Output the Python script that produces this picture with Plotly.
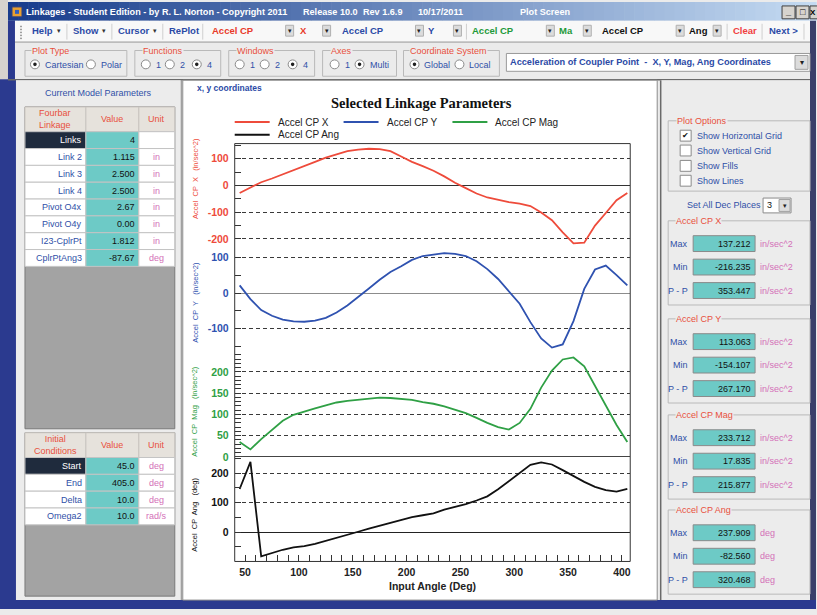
import plotly.graph_objects as go

# ---------------------------------------------------------------- data
input_angle = [45, 55, 65, 75, 85, 95, 105, 115, 125, 135, 145, 155, 165, 175,
               185, 195, 205, 215, 225, 235, 245, 255, 265, 275, 285, 295, 305,
               315, 325, 335, 345, 355, 365, 375, 385, 395, 405]

accel_x = [-28, -8, 12, 26, 41, 58, 72, 88, 104, 117, 128, 134, 137.2, 136,
           128, 108, 88, 72, 55, 34, 10, -10, -30, -45, -54, -62, -68,
           -77, -101, -130, -175, -216.2, -214, -150, -103, -55, -28]

accel_y = [22, -17, -48, -64, -75, -80, -81, -78, -70, -55, -35, -12, 13, 38,
           60, 76, 94, 105, 110, 113.06, 111, 105, 90, 68, 40, 5, -30,
           -82, -128, -154.1, -145, -79, 12, 67, 78, 51, 22]

accel_mag = [35, 17.8, 42, 64, 85, 99, 107, 114, 121, 128, 132, 135, 138, 139.5,
             138.5, 137, 134, 129, 125, 119, 111, 103, 92, 80, 70, 64.5, 80,
             113, 163, 203, 229, 233.7, 213, 168, 122, 75, 35]

accel_ang = [146, 237.9, -82.56, -70, -60, -52, -48, -40, -30, -20, -11, 1, 12, 22,
             31, 40, 51, 57, 63, 76, 85, 95, 107, 121, 145, 173, 200,
             228, 236, 229, 210, 190, 170, 153, 142, 137, 146]

series_names = ["Accel CP X", "Accel CP Y", "Accel CP Mag", "Accel CP Ang"]
series_colors = ["#ee4b3b", "#2f52b0", "#2fa045", "#111111"]
axis_titles = ["Accel  CP  X   (in/sec^2)", "Accel  CP  Y   (in/sec^2)",
               "Accel  CP  Mag   (in/sec^2)", "Accel  CP  Ang   (deg)"]
tick_values = [[-200, -100, 0, 100], [-100, 0, 100],
               [0, 50, 100, 150, 200], [0, 100, 200]]
tick_labels = [["-200", "-100", "0", "100"], ["-100", "0", "100"],
               ["0", "50", "100", "150", "200"], ["0", "100", "200"]]
x_tick_values = [50, 100, 150, 200, 250, 300, 350, 400]

param_names = ["Links", "Link 2", "Link 3", "Link 4", "Pivot O4x", "Pivot O4y",
               "I23-CplrPt", "CplrPtAng3"]
param_values = ["4", "1.115", "2.500", "2.500", "2.67", "0.00", "1.812", "-87.67"]
param_units = ["", "in", "in", "in", "in", "in", "in", "deg"]

init_names = ["Start", "End", "Delta", "Omega2"]
init_values = ["45.0", "405.0", "10.0", "10.0"]
init_units = ["deg", "deg", "deg", "rad/s"]

stat_groups = ["Accel CP X", "Accel CP Y", "Accel CP Mag", "Accel CP Ang"]
stat_max = ["137.212", "113.063", "233.712", "237.909"]
stat_min = ["-216.235", "-154.107", "17.835", "-82.560"]
stat_pp = ["353.447", "267.170", "215.877", "320.468"]
stat_units = ["in/sec^2", "in/sec^2", "in/sec^2", "deg"]

# ---------------------------------------------------------------- helpers
W, H = 817, 615
UI = "Liberation Sans"
BLUE_TXT = "#3050a8"
RED_TXT = "#e8503c"
PINK_TXT = "#d470b8"
TEAL = "#6dcac6"
FRAME_BLUE = "#2b3a8f"
PANEL = "#ececec"

shapes, annos = [], []


def fx(x):
    return x / W


def fy(y):
    return 1 - y / H


def rect(x0, y0, x1, y1, fill=None, line=None, lw=1, layer="below"):
    shapes.append(dict(type="rect", xref="paper", yref="paper",
                       x0=fx(x0), x1=fx(x1), y0=fy(y1), y1=fy(y0),
                       fillcolor=fill or "rgba(0,0,0,0)",
                       line=dict(color=line or "rgba(0,0,0,0)", width=lw if line else 0),
                       layer=layer))


def circle(cx, cy, r, fill, line=None, lw=1):
    shapes.append(dict(type="circle", xref="paper", yref="paper",
                       x0=fx(cx - r), x1=fx(cx + r), y0=fy(cy + r), y1=fy(cy - r),
                       fillcolor=fill, line=dict(color=line or fill, width=lw if line else 0),
                       layer="below"))


def seg(x0, y0, x1, y1, color, lw=1, dash=None, layer="below"):
    shapes.append(dict(type="line", xref="paper", yref="paper",
                       x0=fx(x0), x1=fx(x1), y0=fy(y0), y1=fy(y1),
                       line=dict(color=color, width=lw, dash=dash), layer=layer))


def text(x, y, s, color="#000", size=9, anchor="left", bold=False, family=UI,
         angle=0, bg=None):
    annos.append(dict(xref="paper", yref="paper", x=fx(x), y=fy(y),
                      text=("<b>%s</b>" % s) if bold else s, showarrow=False,
                      xanchor=anchor, yanchor="middle", textangle=angle,
                      font=dict(color=color, size=size, family=family),
                      bgcolor=bg, borderpad=0))


def group_box(x0, y0, x1, y1, label, lx, bg=PANEL):
    rect(x0, y0, x1, y1, None, "#b9b9b9", 1)
    text(lx, y0, label, RED_TXT, 9, bg=bg)


def radio(cx, cy, label, on):
    circle(cx, cy, 4.5, "#ffffff", "#8a8a8a", 1)
    if on:
        circle(cx, cy, 1.8, "#202020")
    text(cx + 9, cy + 1, label, BLUE_TXT, 9)


def drop_button(cx, cy, w=8, h=11):
    rect(cx - w / 2, cy - h / 2, cx + w / 2, cy + h / 2, "#dcdcdc", "#b0b0b0", 1)
    text(cx, cy, "\u25be", "#222", 7, anchor="center")


# ---------------------------------------------------------------- window chrome
# title bar gradient
n_strips = 80
c0, c1 = (24, 60, 140), (196, 218, 242)
for i in range(n_strips):
    t = i / (n_strips - 1)
    col = "rgb(%d,%d,%d)" % tuple(int(a + (b - a) * t) for a, b in zip(c0, c1))
    rect(8 + i * (809 / n_strips), 2, 8 + (i + 1) * (809 / n_strips) + 0.6, 21, col)
rect(0, 0, 8, 80, "#d6d3ce")
rect(12, 7, 22, 17, "#e8a030", "#304080", 1)
rect(15, 10, 19, 14, "#3060c0")
text(25, 12, "Linkages - Student Edition - by R. L. Norton - Copyright 2011", "#ffffff", 9.1, bold=True)
text(302, 12, "Release 10.0", "#ffffff", 9.1, bold=True)
text(362, 12, "Rev 1.6.9", "#ffffff", 9.1, bold=True)
text(418, 12, "10/17/2011", "#ffffff", 9.1, bold=True)
text(520, 12, "Plot Screen", "#ffffff", 9.1, bold=True)
for bx0, bx1, glyph in [(783, 796, "_"), (797, 810, "\u25a1")]:
    rect(bx0, 6, bx1, 19, "#d6d3ce", "#404040", 1)
    text((bx0 + bx1) / 2, 12.5, glyph, "#000", 9, anchor="center", bold=True)
rect(811, 6, 824, 19, "#d6d3ce", "#404040", 1)
text(814, 12.5, "X", "#000", 8, anchor="center", bold=True)

# frame strips
rect(8, 21, 15, 615, FRAME_BLUE)
rect(0, 80, 16, 615, FRAME_BLUE)
rect(811, 21, 817, 615, "#3a3f6a")
rect(0, 606, 817, 615, FRAME_BLUE)

# toolbar
rect(15, 21, 811, 42, "#f8f8f8")
seg(15, 42.5, 811, 42.5, "#9a9a9a", 1)
for gy in range(26, 40, 3):
    rect(20, gy, 22, gy + 1.5, "#a0a0a0")
for sx in [67, 112, 163, 203, 467, 728, 763, 805]:
    seg(sx, 24, sx, 40, "#cfcfcf", 1)
for label, lx, ax in [("Help", 31, 59), ("Show", 72, 104), ("Cursor", 117, 155)]:
    text(lx, 31, label, "#2b4aa6", 9.5, bold=True)
    text(ax, 31, "\u25be", "#333", 7, anchor="center")
text(168, 31, "RePlot", "#2b4aa6", 9.5, bold=True)
combo_items = [("Accel CP", 211, "#e83a2a"), ("X", 299, "#e83a2a"),
               ("Accel CP", 341, "#2b4aa6"), ("Y", 428, "#2b4aa6"),
               ("Accel CP", 472, "#1e9a3a"), ("Ma", 559, "#1e9a3a"),
               ("Accel CP", 602, "#111111"), ("Ang", 689, "#111111"),
               ("Clear", 733, "#f04040"), ("Next >", 769, "#2b4aa6")]
for label, lx, col in combo_items:
    text(lx, 31, label, col, 9.5, bold=True)
for cx in [290, 327, 420, 458, 551, 588, 681, 718]:
    drop_button(cx, 31)

# option row
group_box(25, 51, 127, 77, "Plot Type", 31)
radio(35, 65, "Cartesian", True)
radio(91, 65, "Polar", False)
group_box(135, 51, 221, 77, "Functions", 142)
radio(146, 65, "1", False)
radio(170, 65, "2", False)
radio(197, 65, "4", True)
group_box(229, 51, 315, 77, "Windows", 236)
radio(240, 65, "1", False)
radio(265, 65, "2", False)
radio(293, 65, "4", True)
group_box(323, 51, 397, 77, "Axes", 330)
radio(335, 65, "1", False)
radio(360, 65, "Multi", True)
group_box(404, 51, 500, 77, "Coordinate System", 410)
radio(415, 65, "Global", True)
radio(460, 65, "Local", False)
rect(507, 54, 811, 72, "#ffffff", "#9a9a9a", 1)
text(510, 63, "Acceleration of Coupler Point  -  X, Y, Mag, Ang Coordinates", "#2b4aa6", 9.2, bold=True)
rect(796, 56, 809, 70, "#dcdcdc", "#a0a0a0", 1)
text(802.5, 63, "\u25be", "#222", 8, anchor="center")
seg(8, 80.5, 811, 80.5, "#6a6a6a", 1.5)

# ---------------------------------------------------------------- left panel
rect(16, 81, 181, 606, PANEL)
seg(181.5, 81, 181.5, 606, "#8a8a8a", 1)
text(99, 94, "Current Model Parameters", BLUE_TXT, 9, anchor="center")

cols = [25, 86, 139, 175]


def param_table(top, bottom, head1, names, values, units):
    rect(cols[0], top, cols[3], bottom, "#a3a3a3", "#7a7a7a", 1)
    for j in range(3):
        rect(cols[j], top, cols[j + 1], top + 25, "#e6e2dc", "#c9c5c0", 1)
    text((cols[0] + cols[1]) / 2, top + 12.5, head1, RED_TXT, 9, anchor="center")
    text((cols[1] + cols[2]) / 2, top + 12.5, "Value", RED_TXT, 9, anchor="center")
    text((cols[2] + cols[3]) / 2, top + 12.5, "Unit", RED_TXT, 9, anchor="center")
    for i, (nm, vl, un) in enumerate(zip(names, values, units)):
        y0 = top + 25 + 17 * i
        first = i == 0
        rect(cols[0], y0, cols[1], y0 + 17, "#1f2b3d" if first else "#ffffff", "#c4c4c4", 1)
        rect(cols[1], y0, cols[2], y0 + 17, TEAL, "#c4c4c4", 1)
        rect(cols[2], y0, cols[3], y0 + 17, "#ffffff", "#c4c4c4", 1)
        text(cols[1] - 3, y0 + 8.5, nm, "#ffffff" if first else BLUE_TXT, 9, anchor="right")
        text(cols[2] - 3, y0 + 8.5, vl, "#111111", 9, anchor="right")
        text((cols[2] + cols[3]) / 2, y0 + 8.5, un, PINK_TXT, 9, anchor="center")


param_table(108, 433, "Fourbar<br>Linkage", param_names, param_values, param_units)
param_table(437, 602, "Initial<br>Conditions", init_names, init_values, init_units)

# ---------------------------------------------------------------- right panel
rect(661, 81, 811, 606, PANEL)
seg(661.5, 81, 661.5, 606, "#6a6a6a", 1.5)
group_box(669, 122, 811, 193, "Plot Options", 677)
for k, (lab, cy) in enumerate(zip(["Show Horizontal Grid", "Show Vertical Grid",
                                   "Show Fills", "Show Lines"], [137, 152, 167.5, 182.5])):
    rect(681, cy - 5.5, 692, cy + 5.5, "#ffffff", "#8a8a8a", 1)
    if k == 0:
        text(686.5, cy, "\u2714", "#111", 8, anchor="center")
    text(697, cy, lab, BLUE_TXT, 9)
text(687, 207, "Set All Dec Places", BLUE_TXT, 9)
rect(764, 200, 792, 215, "#ffffff", "#8a8a8a", 1)
text(767, 207.5, "3", "#111", 9)
rect(780, 201.5, 791, 213.5, "#dcdcdc", "#a0a0a0", 1)
text(785.5, 207.5, "\u25be", "#222", 7, anchor="center")

for g, top in enumerate([223, 322, 419, 515]):
    group_box(669, top, 811, top + 85, stat_groups[g], 676)
    for r, (lab, val) in enumerate(zip(["Max", "Min", "P - P"],
                                       [stat_max[g], stat_min[g], stat_pp[g]])):
        cy = top + 23 + 23.7 * r
        text(690, cy, lab, BLUE_TXT, 9, anchor="right")
        rect(694, cy - 8, 756, cy + 8, TEAL, "#8a8a8a", 1)
        text(753, cy, val, "#111111", 9, anchor="right")
        text(760, cy, stat_units[g], PINK_TXT, 9)

# ---------------------------------------------------------------- plot panel
rect(183, 81, 658, 606, "#ffffff", "#8a8a8a", 1)
text(196, 89, "x, y coordinates", "#2b4aa6", 8.5, bold=True)
text(422.5, 104, "Selected Linkage Parameters", "#111", 14.5, anchor="center", bold=True,
     family="Liberation Serif")

legend_pos = [(235, 123.3), (344, 123.3), (453, 123.3), (235, 136)]
for (lx, ly), nm, col in zip(legend_pos, series_names, series_colors):
    seg(lx, ly, lx + 35, ly, col, 2)
    text(lx + 42, ly, nm, "#222", 10)

PL, PR = 235, 631
bounds = [145, 250.5, 356, 461.5, 567]
y_ranges = [[-234, 156.5], [-168, 127.5], [0, 245.3], [-99.7, 254.4]]
minor_steps = [50, 50, 10, 50]
zero_colors = ["#333333", "#8c8c8c", "#444444", "#222222"]
title_centers = [180, 305, 415, 520]

fig = go.Figure()
series = [accel_x, accel_y, accel_mag, accel_ang]
layout_axes = {}
for k in range(4):
    yname = "y" if k == 0 else "y%d" % (k + 1)
    fig.add_trace(go.Scatter(x=input_angle, y=series[k], mode="lines", name=series_names[k],
                             line=dict(color=series_colors[k], width=1.8),
                             xaxis="x", yaxis=yname, showlegend=False, hoverinfo="skip"))
    layout_axes["yaxis" if k == 0 else "yaxis%d" % (k + 1)] = dict(
        domain=[fy(bounds[k + 1]), fy(bounds[k])], range=y_ranges[k], anchor="x",
        tickmode="array", tickvals=tick_values[k], ticktext=tick_labels[k],
        ticks="inside", ticklen=6, tickcolor="#333", ticklabelstandoff=5,
        minor=dict(tickmode="linear", tick0=0, dtick=minor_steps[k], ticks="inside",
                   ticklen=6, tickcolor="#333", showgrid=False),
        tickfont=dict(family=UI, size=10.5, color=series_colors[k], weight="bold"),
        showgrid=True, gridcolor="#3a3a3a", gridwidth=1, griddash="4px,3px",
        zeroline=True, zerolinecolor=zero_colors[k], zerolinewidth=1.2,
        showline=False, fixedrange=True)
    text(195, title_centers[k], axis_titles[k], series_colors[k], 7.5, anchor="center", angle=-90)

layout_axes["xaxis"] = dict(
    domain=[fx(PL), fx(PR)], range=[40.4, 407.7], anchor="y4",
    tickmode="array", tickvals=x_tick_values, ticks="inside", ticklen=6, tickcolor="#333",
    ticklabelstandoff=3,
    minor=dict(tickmode="linear", tick0=0, dtick=10, ticks="inside", ticklen=6,
               tickcolor="#333", showgrid=False),
    tickfont=dict(family=UI, size=10.5, color="#222", weight="bold"),
    showgrid=False, zeroline=False, showline=False, fixedrange=True)
text(433.5, 592, "Input Angle (Deg)", "#222", 10.5, anchor="center", bold=True)

rect(PL, bounds[0], PR, bounds[-1], None, "#333333", 1, layer="above")

fig.update_layout(
    width=W, height=H, margin=dict(l=0, r=0, t=0, b=0),
    paper_bgcolor="#ebebeb", plot_bgcolor="rgba(0,0,0,0)",
    showlegend=False, shapes=shapes, annotations=annos,
    font=dict(family=UI), **layout_axes)

fig.write_html("out.html")
